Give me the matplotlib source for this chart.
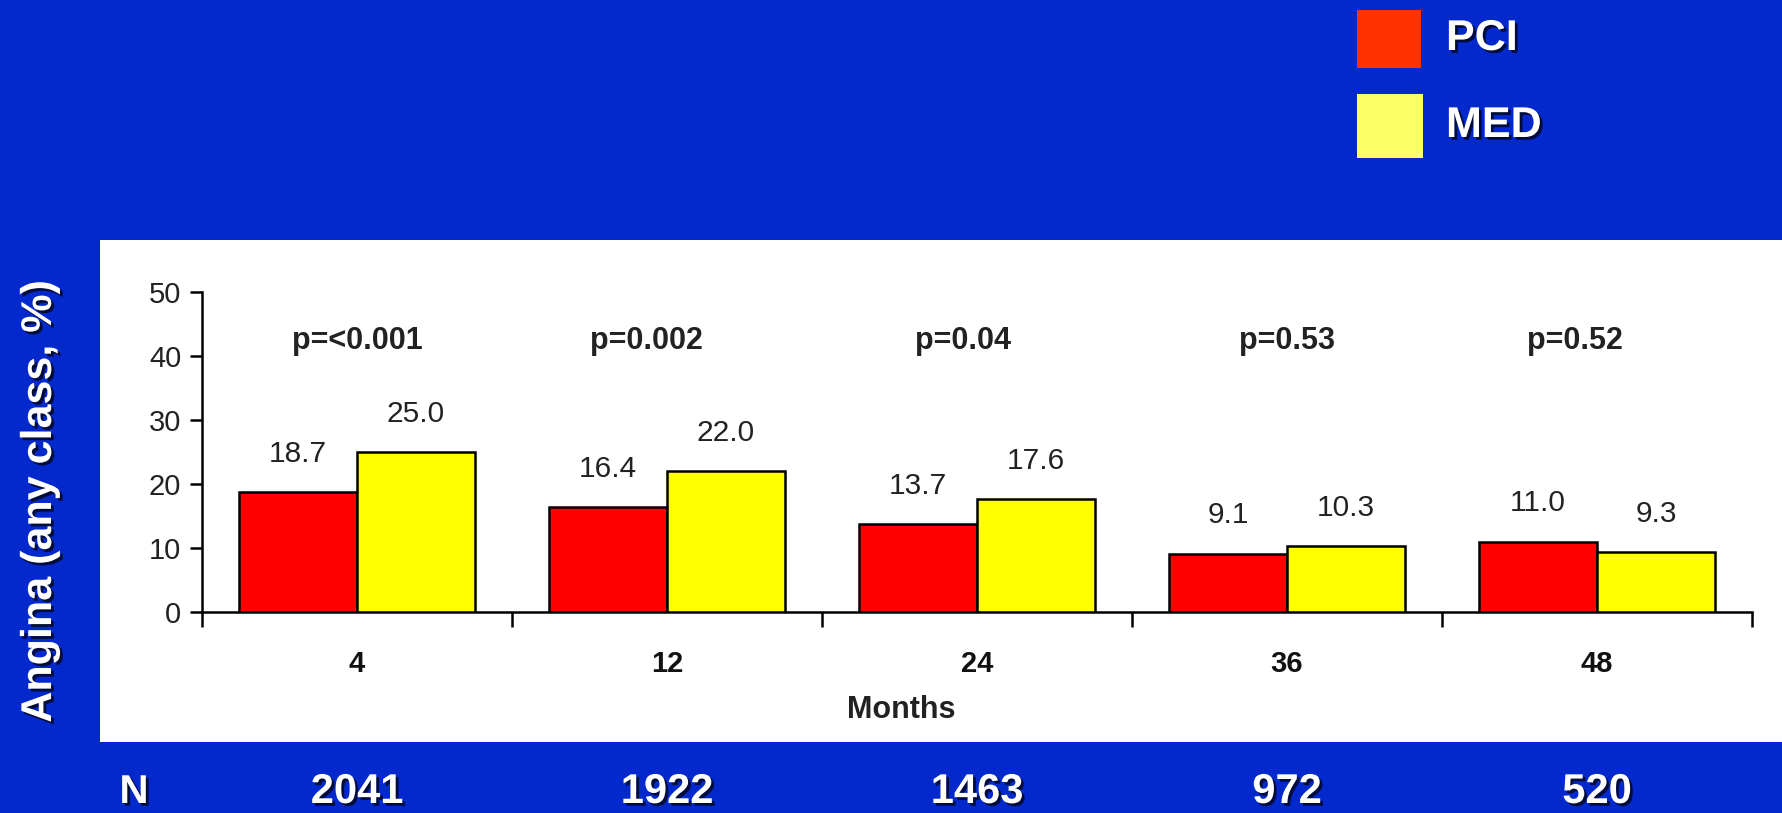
import matplotlib
matplotlib.use("Agg")
import matplotlib.pyplot as plt
import matplotlib.patheffects as pe
from matplotlib.patches import Rectangle
import matplotlib.transforms as mtransforms
import numpy as np

# ---- data ----
months = ["4", "12", "24", "36", "48"]
pci = [18.7, 16.4, 13.7, 9.1, 11.0]
med = [25.0, 22.0, 17.6, 10.3, 9.3]
pvalues = ["p=<0.001", "p=0.002", "p=0.04", "p=0.53", "p=0.52"]
n_at_risk = ["2041", "1922", "1463", "972", "520"]
series_names = ["PCI", "MED"]
y_ticks = [0, 10, 20, 30, 40, 50]

# layout tweak: horizontal nudge of p-value labels (category units)
p_nudge = [0.0, -0.065, -0.045, 0.0, -0.07]

BLUE = "#0329CC"
FONT = ["Liberation Sans", "DejaVu Sans"]
plt.rcParams["font.family"] = FONT

W, H = 1782, 813
fig = plt.figure(figsize=(W / 100, H / 100), dpi=100, facecolor=BLUE)

# white panel
fig.patches.append(Rectangle((100 / W, (H - 742) / H), (W - 100) / W, (742 - 240) / H,
                             transform=fig.transFigure, facecolor="white",
                             edgecolor="none", zorder=-5))

ax = fig.add_axes([202 / W, (H - 612) / H, (1752 - 202) / W, (612 - 292) / H])
ax.set_facecolor("none")
ax.set_zorder(2)

x = np.arange(len(months)) + 0.5
bw = 0.38
ax.bar(x - bw / 2, pci, bw, color="#FF0000", edgecolor="black", linewidth=1.8, zorder=3)
ax.bar(x + bw / 2, med, bw, color="#FFFF00", edgecolor="black", linewidth=1.8, zorder=3)

for xi, v in zip(x - bw / 2, pci):
    ax.text(xi, v + 6, f"{v:.1f}", ha="center", va="center", fontsize=21.5, color="#222222")
for xi, v in zip(x + bw / 2, med):
    ax.text(xi, v + 6, f"{v:.1f}", ha="center", va="center", fontsize=21.5, color="#222222")
for xi, dx, p in zip(x, p_nudge, pvalues):
    ax.text(xi + dx, 42.3, p, ha="center", va="center", fontsize=22, fontweight="bold",
            color="#222222")

ax.set_xlim(0, len(months))
ax.set_ylim(0, 50)
ax.set_yticks(y_ticks)
ax.set_yticklabels([str(t) for t in y_ticks])
ax.tick_params(axis="y", length=9, width=1.8, pad=6, labelsize=21, labelcolor="#222222")
ax.set_xticks(x)
ax.set_xticklabels(months)
ax.tick_params(axis="x", which="major", length=0, pad=27, labelsize=21, labelcolor="#111111")
for lbl in ax.get_xticklabels():
    lbl.set_fontweight("bold")
ax.set_xticks(np.arange(len(months) + 1), minor=True)
ax.tick_params(axis="x", which="minor", length=11, width=1.8, direction="out")
for s in ["top", "right"]:
    ax.spines[s].set_visible(False)
for s in ["left", "bottom"]:
    ax.spines[s].set_linewidth(1.8)
ax.spines["left"].set_bounds(0, 50)

fig.text(901 / W, (H - 710) / H, "Months", ha="center", va="center", fontsize=22,
         fontweight="bold", color="#222222")

shadow = [pe.SimplePatchShadow(offset=(2, -2), shadow_rgbFace="black", alpha=0.7), pe.Normal()]

fig.text(40 / W, (H - 502) / H, "Angina (any class, %)", rotation=90, ha="center",
         va="center", fontsize=31, fontweight="bold", color="white", path_effects=shadow)

# legend
colors = ["#FF3300", "#FFFF66"]
boxes = [(1357, 10, 1421, 68), (1357, 94, 1423, 158)]
for name, c, (x0, y0, x1, y1) in zip(series_names, colors, boxes):
    fig.patches.append(Rectangle((x0 / W, (H - y1) / H), (x1 - x0) / W, (y1 - y0) / H,
                                 transform=fig.transFigure, facecolor=c,
                                 edgecolor="none", zorder=2))
    fig.text(1446 / W, (H - (y0 + y1) / 2) / H, name, ha="left", va="center",
             fontsize=31, fontweight="bold", color="white", path_effects=shadow)

# N row
trans = mtransforms.blended_transform_factory(ax.transData, fig.transFigure)
fig.text(134 / W, (H - 792) / H, "N", ha="center", va="center", fontsize=29,
         fontweight="bold", color="white", path_effects=shadow)
for xi, n in zip(x, n_at_risk):
    ax.text(xi, (H - 792) / H, n, transform=trans, ha="center", va="center",
            fontsize=30, fontweight="bold", color="white", path_effects=shadow,
            clip_on=False)

fig.savefig("out.png", dpi=100, facecolor=BLUE)
